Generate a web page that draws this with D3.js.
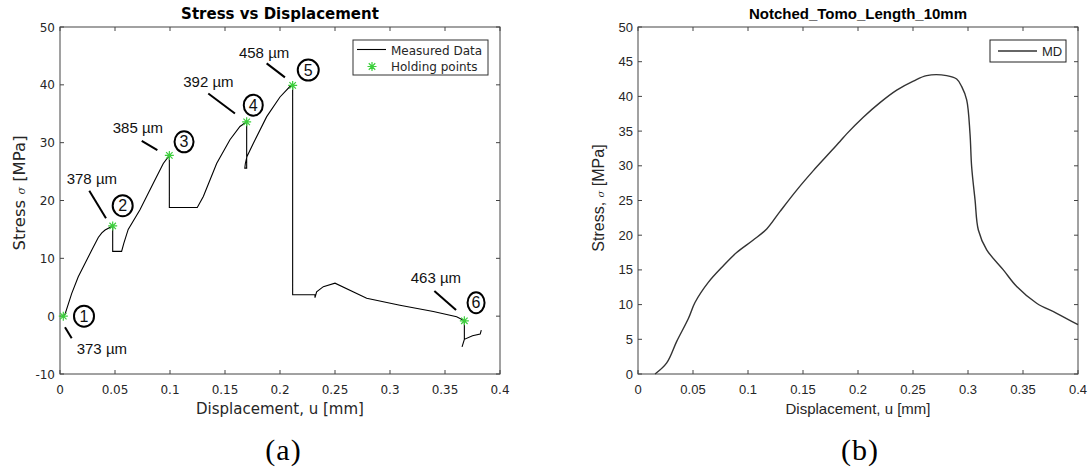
<!DOCTYPE html>
<html><head><meta charset="utf-8">
<script src="https://cdn.jsdelivr.net/npm/d3@7"></script>
<style>body{margin:0;background:#fff}svg{display:block}</style>
</head><body>
<svg id="c" width="1089" height="470"></svg>
<script>
// ---- Data: panel (a) ----
const measuredU = [0.003,0.0045,0.0106,0.0166,0.0227,0.0288,0.0348,0.038,0.041,0.0479,0.0479,0.056,0.058,0.062,0.0727,0.0848,0.0939,0.0994,0.0994,0.1248,0.1303,0.1424,0.1545,0.1636,0.1697,0.1697,0.168,0.1685,0.170,0.1758,0.1879,0.2,0.209,0.2115,0.2115,0.2318,0.2318,0.2333,0.2394,0.25,0.2788,0.309,0.3394,0.3606,0.3676,0.3676,0.3655,0.3676,0.375,0.382,0.383];
const measuredS = [0,0.3,3.9,6.8,9.1,11.4,13.6,14.4,14.9,15.6,11.2,11.2,12.6,15.0,18.4,23.0,26.4,27.8,18.8,18.8,20.7,26.4,30.5,32.8,33.6,25.6,25.6,26.4,27.6,29.9,34.5,37.9,39.7,39.9,3.7,3.7,3.2,4.2,5.1,5.7,3.1,1.9,0.8,-0.1,-0.8,-4.0,-5.3,-4.0,-3.4,-3.1,-2.4];
const holdU = [0.003,0.0479,0.0994,0.1697,0.2115,0.3676];
const holdS = [0,15.6,27.8,33.6,39.9,-0.8];
const holdNums = ["1","2","3","4","5","6"];
const holdLabels = ["373 µm","378 µm","385 µm","392 µm","458 µm","463 µm"];
const xTicksA = [0,0.05,0.1,0.15,0.2,0.25,0.3,0.35,0.4];
const yTicksA = [-10,0,10,20,30,40,50];
const legendA = ["Measured Data","Holding points"];
// ---- Data: panel (b) ----
const mdU = [0.0155,0.0261,0.0352,0.0458,0.0518,0.0639,0.0776,0.0897,0.1048,0.117,0.129,0.1443,0.1594,0.1715,0.1836,0.1897,0.2048,0.22,0.2352,0.2503,0.2624,0.2806,0.2897,0.2943,0.2988,0.3018,0.3033,0.3064,0.3094,0.317,0.3321,0.3443,0.3624,0.3806,0.4];
const mdS = [0,1.6,4.7,8.0,10.3,13.2,15.6,17.5,19.3,20.9,23.4,26.5,29.3,31.4,33.5,34.6,37.0,39.1,40.9,42.2,43.0,43.0,42.5,41.4,39.5,34.7,29.9,25.1,20.75,17.9,15.0,12.6,10.2,8.75,7.1];
const xTicksB = [0,0.05,0.1,0.15,0.2,0.25,0.3,0.35,0.4];
const yTicksB = [0,5,10,15,20,25,30,35,40,45,50];
const legendB = ["MD"];

// ---- Layout / annotation offsets (pixels, relative to holding points) ----
const circOff = [[20.7,0],[10,-20.3],[14.7,-13.6],[6.6,-16.7],[15.6,-15.3],[11.7,-18]];
const circR = [[10,10.5],[10,10.5],[9.5,10.5],[9.5,10.5],[10.5,10.5],[8.5,10.5]];
const labOff = [[13.4,37.7],[-46,-42],[-56.6,-22],[-63.4,-35],[-53.7,-27],[-53.6,-38]];
const leadOff = [[1.7,11,8.4,22],[-23.4,-35.3,-6.7,-7.7],[-27.6,-14.6,-12,-5.3],[-38.4,-28.4,-11.7,-8.4],[-26,-22,-7.7,-8],[-30,-29.7,-8.3,-10.7]];

const svg = d3.select("#c");
const axisCol = "#444", txtCol = "#262626", green = "#3ccf3c";
const fmt = d => d===0 ? "0" : String(d);

function asterisk(g, x, y, r) {
  const p = d3.path();
  p.moveTo(x-r,y); p.lineTo(x+r,y);
  p.moveTo(x,y-r); p.lineTo(x,y+r);
  const q = r*0.72;
  p.moveTo(x-q,y-q); p.lineTo(x+q,y+q);
  p.moveTo(x-q,y+q); p.lineTo(x+q,y-q);
  g.append("path").attr("d", p.toString()).attr("stroke", green).attr("stroke-width", 1.2).attr("fill","none");
}

function frame(g, x, y, xt, yt, font, fsize) {
  const [x0,x1] = x.range(), [y0,y1] = y.range();
  const tl = 4;
  xt.forEach(t => {
    const px = x(t);
    g.append("line").attr("x1",px).attr("x2",px).attr("y1",y0).attr("y2",y0-tl).attr("stroke",axisCol);
    g.append("line").attr("x1",px).attr("x2",px).attr("y1",y1).attr("y2",y1+tl).attr("stroke",axisCol);
    g.append("text").attr("x",px).attr("y",y0+20).attr("text-anchor","middle")
      .attr("font-family",font).attr("font-size",fsize).attr("fill",txtCol).text(fmt(t));
  });
  yt.forEach(t => {
    const py = y(t);
    g.append("line").attr("x1",x0).attr("x2",x0+tl).attr("y1",py).attr("y2",py).attr("stroke",axisCol);
    g.append("line").attr("x1",x1).attr("x2",x1-tl).attr("y1",py).attr("y2",py).attr("stroke",axisCol);
    g.append("text").attr("x",x0-5).attr("y",py+4.5).attr("text-anchor","end")
      .attr("font-family",font).attr("font-size",fsize).attr("fill",txtCol).text(fmt(t));
  });
  g.append("rect").attr("x",x0).attr("y",y1).attr("width",x1-x0).attr("height",y0-y1)
    .attr("fill","none").attr("stroke",axisCol).attr("stroke-width",1);
}

// ===== Panel (a) =====
const xA = d3.scaleLinear().domain([0,0.4]).range([60,500]);
const yA = d3.scaleLinear().domain([-10,50]).range([374,27]);
const gA = svg.append("g");
frame(gA, xA, yA, xTicksA, yTicksA, "DejaVu Sans", 12);
gA.append("text").attr("x",280).attr("y",19).attr("text-anchor","middle")
  .attr("font-family","DejaVu Sans").attr("font-weight","bold").attr("font-size",15).attr("fill","#000").text("Stress vs Displacement");
gA.append("text").attr("x",280).attr("y",414).attr("text-anchor","middle")
  .attr("font-family","DejaVu Sans").attr("font-size",15).attr("fill",txtCol).text("Displacement, u [mm]");
{
  const t = gA.append("text").attr("transform","translate(25,193) rotate(-90)").attr("text-anchor","middle")
    .attr("font-family","DejaVu Sans").attr("font-size",16.5).attr("fill",txtCol);
  t.append("tspan").text("Stress ");
  t.append("tspan").attr("font-style","italic").attr("font-family","DejaVu Serif").attr("font-size",11).text("σ");
  t.append("tspan").text(" [MPa]");
}
const lineA = d3.line().x((d,i)=>xA(measuredU[i])).y((d,i)=>yA(measuredS[i]));
gA.append("path").attr("d", lineA(measuredU)).attr("fill","none").attr("stroke","#000").attr("stroke-width",1.1);
holdU.forEach((u,i) => {
  const px = xA(u), py = yA(holdS[i]);
  asterisk(gA, px, py, 4.5);
  const [cx,cy] = circOff[i];
  gA.append("ellipse").attr("cx",px+cx).attr("cy",py+cy).attr("rx",circR[i][0]).attr("ry",circR[i][1])
    .attr("fill","none").attr("stroke","#000").attr("stroke-width",2);
  gA.append("text").attr("x",px+cx).attr("y",py+cy+5.5).attr("text-anchor","middle")
    .attr("font-family","Liberation Sans").attr("font-size",16).attr("fill","#111").text(holdNums[i]);
  const [lx,ly] = labOff[i];
  gA.append("text").attr("x",px+lx).attr("y",py+ly)
    .attr("font-family","Liberation Sans").attr("font-size",15).attr("fill","#111").text(holdLabels[i]);
  const [a,b,c,d] = leadOff[i];
  gA.append("line").attr("x1",px+a).attr("y1",py+b).attr("x2",px+c).attr("y2",py+d)
    .attr("stroke","#000").attr("stroke-width",2);
});
gA.append("rect").attr("x",353).attr("y",40).attr("width",135).attr("height",35)
  .attr("fill","#fff").attr("stroke","#333").attr("stroke-width",1);
gA.append("line").attr("x1",357).attr("x2",386).attr("y1",49.5).attr("y2",49.5).attr("stroke","#000").attr("stroke-width",1.1);
asterisk(gA, 372, 66.5, 4.5);
gA.append("text").attr("x",391).attr("y",54.5).attr("font-family","DejaVu Sans").attr("font-size",12).attr("fill",txtCol).text(legendA[0]);
gA.append("text").attr("x",391).attr("y",71).attr("font-family","DejaVu Sans").attr("font-size",12).attr("fill",txtCol).text(legendA[1]);
svg.append("text").attr("x",283.5).attr("y",460).attr("text-anchor","middle")
  .attr("font-family","Liberation Serif").attr("font-size",30).attr("letter-spacing",1).attr("fill","#000").text("(a)");

// ===== Panel (b) =====
const xB = d3.scaleLinear().domain([0,0.4]).range([638,1078]);
const yB = d3.scaleLinear().domain([0,50]).range([374,27]);
const gB = svg.append("g");
frame(gB, xB, yB, xTicksB, yTicksB, "Liberation Sans", 13);
gB.append("text").attr("x",858).attr("y",19).attr("text-anchor","middle")
  .attr("font-family","Liberation Sans").attr("font-weight","bold").attr("font-size",15).attr("fill","#000").text("Notched_Tomo_Length_10mm");
gB.append("text").attr("x",858).attr("y",414).attr("text-anchor","middle")
  .attr("font-family","Liberation Sans").attr("font-size",15).attr("fill",txtCol).text("Displacement, u [mm]");
{
  const t = gB.append("text").attr("transform","translate(604,198) rotate(-90)").attr("text-anchor","middle")
    .attr("font-family","Liberation Sans").attr("font-size",16).attr("fill",txtCol);
  t.append("tspan").text("Stress, ");
  t.append("tspan").attr("font-style","italic").attr("font-family","DejaVu Serif").attr("font-size",10).text("σ");
  t.append("tspan").text(" [MPa]");
}
const lineB = d3.line().curve(d3.curveCatmullRom).x((d,i)=>xB(mdU[i])).y((d,i)=>yB(mdS[i]));
gB.append("path").attr("d", lineB(mdU)).attr("fill","none").attr("stroke","#333").attr("stroke-width",1.4);
gB.append("rect").attr("x",990).attr("y",40).attr("width",76).attr("height",22)
  .attr("fill","#fff").attr("stroke","#222").attr("stroke-width",1);
gB.append("line").attr("x1",998).attr("x2",1037).attr("y1",51).attr("y2",51).attr("stroke","#333").attr("stroke-width",1.4);
gB.append("text").attr("x",1042).attr("y",56).attr("font-family","Liberation Sans").attr("font-size",13).attr("fill",txtCol).text(legendB[0]);
svg.append("text").attr("x",860).attr("y",460).attr("text-anchor","middle")
  .attr("font-family","Liberation Serif").attr("font-size",30).attr("letter-spacing",1).attr("fill","#000").text("(b)");
</script>
</body></html>
